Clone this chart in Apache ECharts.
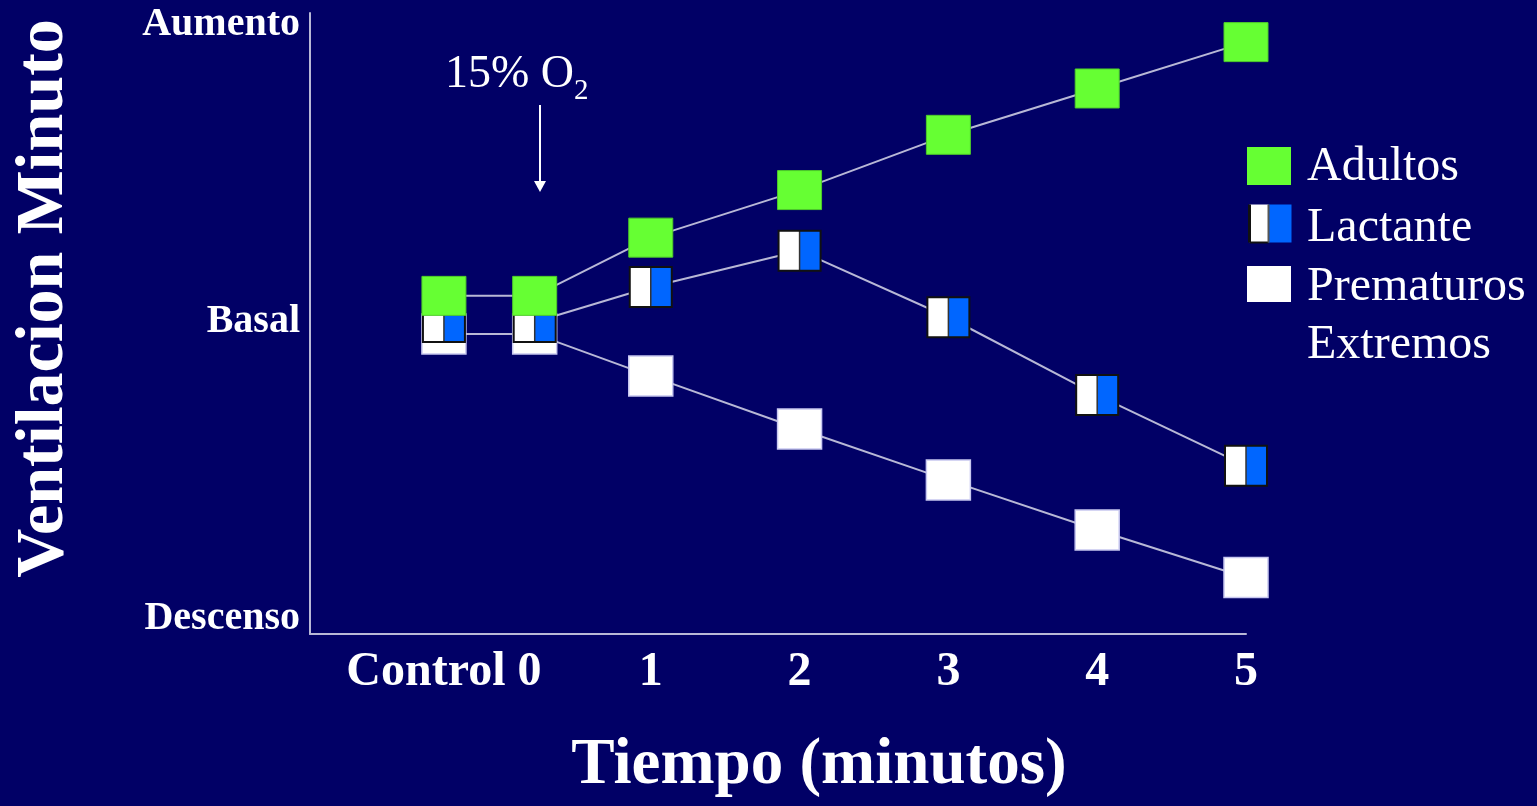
<!DOCTYPE html>
<html>
<head>
<meta charset="utf-8">
<script src="https://cdn.jsdelivr.net/npm/echarts@6/dist/echarts.min.js"></script>
<style>
  html, body { margin: 0; padding: 0; background: #010066; }
  #chart { width: 1537px; height: 806px; }
</style>
</head>
<body>
<div id="chart"></div>
<script>
// ---- data ----
const timeLabels = ['Control 0', '1', '2', '3', '4', '5'];
const labelPos   = [-0.39, 1, 2, 3, 4, 5];
const timePos    = [-0.39, 0.22, 1, 2, 3, 4, 5];   // Control, 0, 1..5 minutes
const adultos    = [5.44, 5.44, 6.42, 7.22, 8.15, 8.93, 9.71];
const lactante   = [5.00, 5.00, 5.59, 6.20, 5.08, 3.77, 2.58];
const prematuros = [4.80, 4.80, 4.09, 3.20, 2.34, 1.50, 0.70];
const yTickValues = [0, 5, 10];
const yTickLabels = ['Descenso', 'Basal', 'Aumento'];
const seriesNames = ['Adultos', 'Lactante', 'Prematuros', 'Extremos'];

const BG = '#010066';
const GREEN = '#66ff33';
const BLUE = '#0066ff';
const LINE = '#b8b8d6';
const SERIF = '"Liberation Serif", "Times New Roman", serif';

const pairs = arr => timePos.map((x, i) => [x, arr[i]]);
const lactLine = timePos.map((x, i) => i === 0 ? [x, null] : [x, lactante[i]]);

function markerRender(kind) {
  return function (params, api) {
    const p = api.coord([api.value(0), api.value(1)]);
    if (kind === 'adultos') {
      return { type: 'rect', shape: { x: p[0] - 22, y: p[1] - 19.5, width: 44, height: 39 },
               style: { fill: GREEN, stroke: '#4fcc2a', lineWidth: 1 } };
    }
    if (kind === 'prematuros') {
      return { type: 'rect', shape: { x: p[0] - 22, y: p[1] - 20, width: 44, height: 40 },
               style: { fill: '#ffffff', stroke: '#c8c8f0', lineWidth: 1.5 } };
    }
    // lactante: half white, half blue with dark border
    return { type: 'group', children: [
      { type: 'rect', shape: { x: p[0] - 21, y: p[1] - 20, width: 21, height: 40 }, style: { fill: '#ffffff' } },
      { type: 'rect', shape: { x: p[0], y: p[1] - 20, width: 21, height: 40 }, style: { fill: BLUE } },
      { type: 'line', shape: { x1: p[0], y1: p[1] - 20, x2: p[0], y2: p[1] + 20 }, style: { stroke: '#333', lineWidth: 1.5 } },
      { type: 'rect', shape: { x: p[0] - 21, y: p[1] - 20, width: 42, height: 40 }, style: { fill: null, stroke: '#111', lineWidth: 2 } }
    ]};
  };
}

const chart = echarts.init(document.getElementById('chart'), null, { renderer: 'canvas' });

const option = {
  backgroundColor: BG,
  animation: false,
  grid: { left: 310, right: 291, top: 13, bottom: 172, containLabel: false, outerBoundsMode: 'none' },
  xAxis: {
    type: 'value',
    min: -1.29, max: 5,
    name: 'Tiempo (minutos)',
    nameLocation: 'middle',
    nameGap: 100,
    nameTextStyle: { color: '#ffffff', fontFamily: SERIF, fontWeight: 'bold', fontSize: 65, padding: [0, 0, 0, 82] },
    axisLine: { show: true, onZero: false, lineStyle: { color: LINE, width: 2 } },
    axisTick: { show: false },
    splitLine: { show: false },
    axisLabel: {
      customValues: labelPos,
      formatter: v => { const i = labelPos.findIndex(p => Math.abs(p - v) < 1e-6); return i >= 0 ? timeLabels[i] : ''; },
      color: '#ffffff', fontFamily: SERIF, fontWeight: 'bold', fontSize: 48, margin: 15
    }
  },
  yAxis: {
    type: 'value',
    min: -0.25, max: 10.2,
    name: 'Ventilacion Minuto',
    nameLocation: 'middle',
    nameGap: 232,
    nameRotate: 90,
    nameTextStyle: { color: '#ffffff', fontFamily: SERIF, fontWeight: 'bold', fontSize: 68, padding: [0, 0, 0, 50] },
    axisLine: { show: true, onZero: false, lineStyle: { color: LINE, width: 2 } },
    axisTick: { show: false },
    splitLine: { show: false },
    axisLabel: {
      customValues: yTickValues,
      formatter: v => { const i = yTickValues.indexOf(v); return i >= 0 ? yTickLabels[i] : ''; },
      color: '#ffffff', fontFamily: SERIF, fontWeight: 'bold', fontSize: 40, margin: 10
    }
  },
  series: [
    { name: 'Adultos-line', type: 'line', data: pairs(adultos), symbol: 'none', z: 1,
      lineStyle: { color: LINE, width: 2 } },
    { name: 'Lactante-line', type: 'line', data: lactLine, symbol: 'none', z: 1, connectNulls: false,
      lineStyle: { color: LINE, width: 2 } },
    { name: 'Prematuros-line', type: 'line', data: pairs(prematuros), symbol: 'none', z: 1,
      lineStyle: { color: LINE, width: 2 } },
    { name: 'Prematuros', type: 'custom', data: pairs(prematuros), z: 2, renderItem: markerRender('prematuros') },
    { name: 'Lactante', type: 'custom', data: pairs(lactante), z: 3, renderItem: markerRender('lactante') },
    { name: 'Adultos', type: 'custom', data: pairs(adultos), z: 4, renderItem: markerRender('adultos') }
  ],
  graphic: [
    // legend
    { type: 'rect', left: 1247, top: 147, shape: { width: 44, height: 38 }, style: { fill: GREEN } },
    { type: 'group', left: 1247, top: 202, children: [
      { type: 'rect', shape: { x: 0, y: 0, width: 19, height: 38 }, style: { fill: '#ffffff' } },
      { type: 'rect', shape: { x: 19, y: 0, width: 23, height: 38 }, style: { fill: BLUE } },
      { type: 'line', shape: { x1: 0, y1: 0, x2: 0, y2: 38 }, style: { stroke: '#111', lineWidth: 3 } },
      { type: 'line', shape: { x1: 0, y1: 38, x2: 19, y2: 38 }, style: { stroke: '#111', lineWidth: 2 } },
      { type: 'line', shape: { x1: 19, y1: 0, x2: 19, y2: 38 }, style: { stroke: '#555', lineWidth: 2 } }
    ]},
    { type: 'rect', left: 1247, top: 266, shape: { width: 44, height: 36 }, style: { fill: '#ffffff' } },
    { type: 'text', x: 1307, y: 167, style: { text: seriesNames[0], fill: '#ffffff', font: '48px ' + SERIF, textVerticalAlign: 'middle' } },
    { type: 'text', x: 1307, y: 228, style: { text: seriesNames[1], fill: '#ffffff', font: '48px ' + SERIF, textVerticalAlign: 'middle' } },
    { type: 'text', x: 1307, y: 287, style: { text: seriesNames[2], fill: '#ffffff', font: '48px ' + SERIF, textVerticalAlign: 'middle' } },
    { type: 'text', x: 1307, y: 345, style: { text: seriesNames[3], fill: '#ffffff', font: '48px ' + SERIF, textVerticalAlign: 'middle' } },
    // annotation
    { type: 'text', x: 445, y: 75, style: { text: '15% O', fill: '#ffffff', font: '46px ' + SERIF, textVerticalAlign: 'middle' } },
    { type: 'text', x: 574, y: 91, style: { text: '2', fill: '#ffffff', font: '29px ' + SERIF, textVerticalAlign: 'middle' } },
    { type: 'line', shape: { x1: 540, y1: 105, x2: 540, y2: 186 }, style: { stroke: '#ffffff', lineWidth: 2 } },
    { type: 'polygon', shape: { points: [[534, 181], [546, 181], [540, 192]] }, style: { fill: '#ffffff' } }
  ]
};
chart.setOption(option);
</script>
</body>
</html>
